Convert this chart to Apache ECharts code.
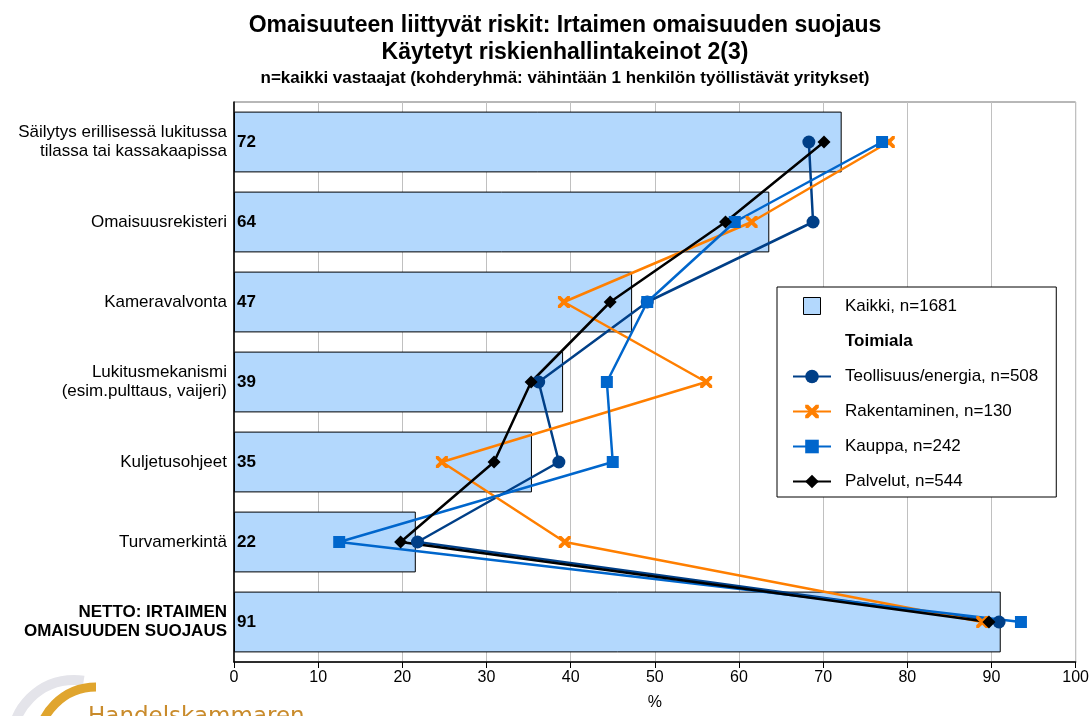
<!DOCTYPE html>
<html>
<head>
<meta charset="utf-8">
<title>Irtaimen omaisuuden suojaus</title>
<script src="https://cdn.jsdelivr.net/npm/echarts@6/dist/echarts.min.js"></script>
<style>
  html, body { margin: 0; padding: 0; background: #fff; }
  #chart { width: 1092px; height: 716px; }
</style>
</head>
<body>
<div id="chart"></div>
<script>
// kategoriat ylhäältä alas
const categories = [
  'Säilytys erillisessä lukitussa\ntilassa tai kassakaapissa',
  'Omaisuusrekisteri',
  'Kameravalvonta',
  'Lukitusmekanismi\n(esim.pulttaus, vaijeri)',
  'Kuljetusohjeet',
  'Turvamerkintä',
  'NETTO: IRTAIMEN\nOMAISUUDEN SUOJAUS'
]
const xTicks = [0, 10, 20, 30, 40, 50, 60, 70, 80, 90, 100]

// Kaikki (pylväät)
const kaikki = [72.2, 63.6, 47.3, 39.1, 35.4, 21.6, 91.1]
// toimialat (viivat)
const teollisuus = [68.3, 68.8, 49.1, 36.2, 38.6, 21.8, 90.9]
const rakentaminen = [77.8, 61.5, 39.2, 56.1, 24.7, 39.3, 88.9]
const kauppa = [77.0, 59.5, 49.1, 44.3, 45.0, 12.5, 93.5]
const palvelut = [70.1, 58.4, 44.7, 35.3, 30.9, 19.8, 89.7]

const fontFamily = 'Liberation Sans, Arial, sans-serif'
const barColor = '#B3D8FD'
const crossPath = 'path://M0,0 L2.2,0 L5,2.8 L7.8,0 L10,0 L10,2.2 L7.2,5 L10,7.8 L10,10 L7.8,10 L5,7.2 L2.2,10 L0,10 L0,7.8 L2.8,5 L0,2.2 Z'
const squareIcon = 'path://M0,0 L10,0 L10,10 L0,10 Z'

const chart = echarts.init(document.getElementById('chart'))

/* viivasarja */
function lineSeries(name, data, color, symbol, symbolSize) {
  return {
    name: name,
    type: 'line',
    data: data,
    symbol: symbol,
    symbolSize: symbolSize,
    showAllSymbol: true,
    lineStyle: { color: color, width: 2.5 },
    itemStyle: { color: color },
    emphasis: { disabled: true },
    z: 3
  }
}

chart.setOption({
  animation: false,
  textStyle: { fontFamily: fontFamily },
  title: [
    {
      text: 'Omaisuuteen liittyvät riskit: Irtaimen omaisuuden suojaus\nKäytetyt riskienhallintakeinot 2(3)',
      left: 560,
      top: 7,
      textAlign: 'center',
      textStyle: { fontSize: 23, fontWeight: 'bold', color: '#000', lineHeight: 27, fontFamily: fontFamily }
    },
    {
      text: 'n=kaikki vastaajat (kohderyhmä: vähintään 1 henkilön työllistävät yritykset)',
      left: 560,
      top: 65,
      textAlign: 'center',
      textStyle: { fontSize: 17, fontWeight: 'bold', color: '#000', fontFamily: fontFamily }
    }
  ],
  grid: {
    left: 234,
    right: 16,
    top: 102,
    bottom: 52,
    show: true,
    borderColor: '#707070',
    borderWidth: 1,
    backgroundColor: '#fff'
  },
  legend: {
    orient: 'vertical',
    left: 777,
    top: 287,
    padding: [10, 18, 7, 15],
    itemGap: 18,
    itemWidth: 38,
    itemHeight: 17,
    backgroundColor: '#fff',
    borderColor: '#000',
    borderWidth: 1,
    selectedMode: false,
    textStyle: { fontSize: 17, color: '#000', padding: [0, 0, 0, 9], fontFamily: fontFamily },
    data: [
      {
        name: 'Kaikki, n=1681',
        icon: squareIcon,
        itemStyle: { color: barColor, borderColor: '#000', borderWidth: 1 }
      },
      { name: 'Toimiala', icon: 'none', textStyle: { fontWeight: 'bold' } },
      'Teollisuus/energia, n=508',
      'Rakentaminen, n=130',
      'Kauppa, n=242',
      'Palvelut, n=544'
    ]
  },
  xAxis: {
    type: 'value',
    min: 0,
    max: 100,
    interval: 10,
    name: '%',
    nameLocation: 'middle',
    nameGap: 33,
    nameTextStyle: { fontSize: 16, color: '#000' },
    axisLine: { show: true, lineStyle: { color: '#000', width: 1.5 } },
    axisTick: { show: true, length: 6, lineStyle: { color: '#000' } },
    axisLabel: {
      fontSize: 16,
      color: '#000',
      margin: 8,
      formatter: v => (xTicks.indexOf(v) >= 0 ? String(v) : '')
    },
    splitLine: { show: true, lineStyle: { color: '#C0C0C0', width: 1 } }
  },
  yAxis: {
    type: 'category',
    inverse: true,
    data: categories,
    axisLine: { show: true, lineStyle: { color: '#000', width: 1.5 } },
    axisTick: { show: false },
    axisLabel: {
      fontSize: 17,
      color: '#000',
      margin: 7,
      lineHeight: 19,
      align: 'right',
      formatter: (value, index) => {
        if (index === categories.length - 1) {
          return value.split('\n').map(s => '{b|' + s + '}').join('\n')
        }
        return value
      },
      rich: {
        b: { fontSize: 17, fontWeight: 'bold', color: '#000', lineHeight: 19 }
      }
    }
  },
  series: [
    {
      name: 'Kaikki, n=1681',
      type: 'bar',
      data: kaikki,
      barCategoryGap: '24%',
      itemStyle: { color: barColor, borderColor: '#000', borderWidth: 1 },
      label: {
        show: true,
        position: 'insideLeft',
        distance: 3,
        fontSize: 17,
        fontWeight: 'bold',
        color: '#000',
        formatter: p => Math.round(p.value)
      },
      emphasis: { disabled: true },
      z: 2
    },
    { name: 'Toimiala', type: 'line', data: [] },
    lineSeries('Teollisuus/energia, n=508', teollisuus, '#003F87', 'circle', 13),
    lineSeries('Rakentaminen, n=130', rakentaminen, '#FF7F00', crossPath, 12),
    lineSeries('Kauppa, n=242', kauppa, '#0066CC', 'rect', 12),
    lineSeries('Palvelut, n=544', palvelut, '#000000', 'diamond', 13)
  ],
  /* logo vasemmassa alakulmassa */
  graphic: [
    {
      type: 'arc',
      shape: { cx: 74, cy: 742, r: 62, startAngle: Math.PI, endAngle: Math.PI * 1.55 },
      style: { stroke: '#E4E4EA', lineWidth: 10, fill: null }
    },
    {
      type: 'arc',
      shape: { cx: 96, cy: 745, r: 58, startAngle: Math.PI, endAngle: Math.PI * 1.5 },
      style: { stroke: '#E0A52E', lineWidth: 9, fill: null }
    },
    {
      type: 'text',
      left: 88,
      top: 706,
      style: {
        text: 'Handelskammaren',
        fill: '#C98B2B',
        fontSize: 23,
        fontFamily: 'DejaVu Sans, sans-serif'
      }
    }
  ]
})
</script>
</body>
</html>
